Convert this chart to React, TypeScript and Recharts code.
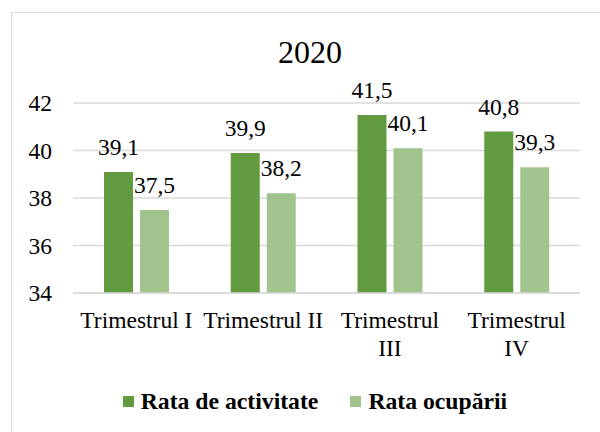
import { BarChart, Bar, XAxis, YAxis, CartesianGrid, Legend, LabelList } from "recharts";

const categories = ["Trimestrul I", "Trimestrul II", "Trimestrul III", "Trimestrul IV"];
const rataActivitate = [39.1, 39.9, 41.5, 40.8];
const rataOcuparii = [37.5, 38.2, 40.1, 39.3];
const yTicks = [34, 36, 38, 40, 42];

const SERIES = [
  { key: "activitate", name: "Rata de activitate", color: "#629A3F" },
  { key: "ocuparii", name: "Rata ocupării", color: "#A1C48F" },
];

const data = categories.map((name, i) => ({
  name,
  activitate: rataActivitate[i],
  ocuparii: rataOcuparii[i],
}));

const FONT = "'Liberation Serif', 'Times New Roman', serif";
const FS = 23.5;

const fmt = (v: number) => v.toFixed(1).replace(".", ",");

let ctx: CanvasRenderingContext2D | null = null;
function textWidth(s: string) {
  if (!ctx) ctx = document.createElement("canvas").getContext("2d");
  if (!ctx) return s.length * FS * 0.45;
  ctx.font = `${FS}px ${FONT}`;
  return ctx.measureText(s).width;
}

// wrap onto two lines like Excel when the label is wider than its slot
function CategoryTick({ x, y, payload }: any) {
  const label: string = payload.value;
  const lines = textWidth(label) > 124 ? label.split(" ") : [label];
  return (
    <text x={x} y={y} textAnchor="middle" fontSize={FS} fontFamily={FONT} fill="#000">
      {lines.map((l, i) => (
        <tspan key={i} x={x} dy={i === 0 ? 16 : 28}>
          {l}
        </tspan>
      ))}
    </text>
  );
}

function YTick({ x, y, payload }: any) {
  return (
    <text x={x} y={y} dy={8} textAnchor="end" fontSize={FS} fontFamily={FONT} fill="#000">
      {payload.value}
    </text>
  );
}

function LegendContent() {
  return (
    <div style={{ display: "flex", justifyContent: "center", alignItems: "center", fontFamily: FONT }}>
      {SERIES.map((s, i) => (
        <div key={s.key} style={{ display: "flex", alignItems: "center", marginLeft: i ? 32 : 0 }}>
          <span style={{ width: 11, height: 11, background: s.color, display: "inline-block", marginRight: 7 }} />
          <span style={{ fontFamily: FONT, fontSize: 23.7, fontWeight: "bold", color: "#000", lineHeight: "26px" }}>
            {s.name}
          </span>
        </div>
      ))}
    </div>
  );
}

export default function App() {
  return (
    <div
      style={{
        position: "absolute",
        left: 0,
        top: 0,
        width: 600,
        height: 432,
        background: "#fff",
        overflow: "hidden",
        fontFamily: FONT,
      }}
    >
      <div
        style={{
          position: "absolute",
          left: 11,
          top: 12,
          width: 598,
          height: 440,
          border: "1px solid #d9d9d9",
        }}
      />
      <div
        style={{
          position: "absolute",
          left: 11,
          top: 36,
          width: 598,
          textAlign: "center",
          fontSize: 32,
          lineHeight: "32px",
          color: "#000",
        }}
      >
        2020
      </div>
      <div style={{ position: "absolute", left: 0, top: 0 }}>
        <BarChart
          width={600}
          height={432}
          data={data}
          margin={{ top: 103, right: 20, left: 0, bottom: 79 }}
          barSize={29}
          barGap={7}
          style={{ fontFamily: FONT }}
        >
          <CartesianGrid vertical={false} stroke="#d9d9d9" strokeWidth={1.5} />
          <XAxis
            dataKey="name"
            height={60}
            axisLine={{ stroke: "#d9d9d9", strokeWidth: 1.5 }}
            tickLine={false}
            tickMargin={13}
            interval={0}
            tick={<CategoryTick />}
          />
          <YAxis
            width={73}
            domain={[34, 42]}
            ticks={yTicks}
            axisLine={false}
            tickLine={false}
            tickMargin={15}
            tick={<YTick />}
          />
          <Legend
            verticalAlign="middle"
            layout="horizontal"
            wrapperStyle={{ top: 388, left: 16, width: 598, fontFamily: FONT }}
            content={<LegendContent />}
          />
          {SERIES.map((s) => (
            <Bar key={s.key} dataKey={s.key} name={s.name} fill={s.color} isAnimationActive={false}>
              <LabelList
                dataKey={s.key}
                position="top"
                offset={17}
                formatter={(v: any) => fmt(Number(v))}
                fontSize={FS}
                fontFamily={FONT}
                fill="#000"
              />
            </Bar>
          ))}
        </BarChart>
      </div>
    </div>
  );
}
